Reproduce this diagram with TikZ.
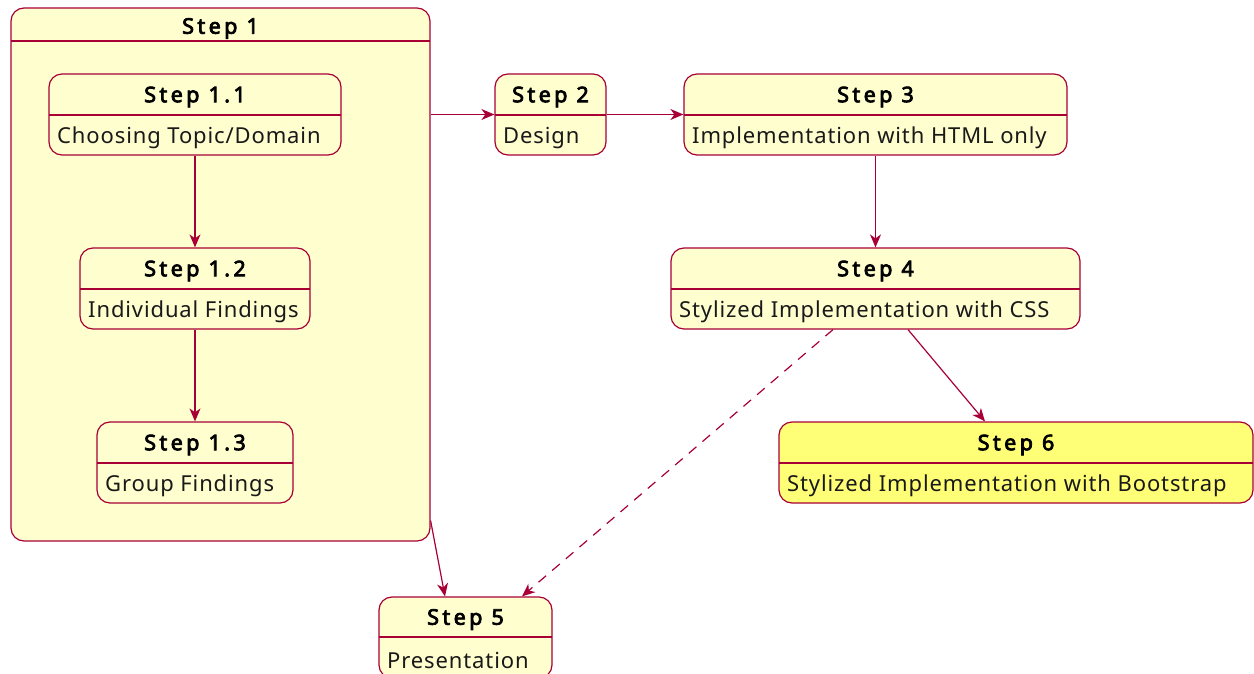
\documentclass[tikz,border=0pt]{standalone}
\usepackage{fontspec}
\setmainfont{Noto Sans}[LetterSpace=4]
\newfontfamily\hdfam{Noto Sans}[FakeBold=3.5, LetterSpace=16]
\usetikzlibrary{arrows.meta}
\definecolor{bord}{HTML}{A80036}
\definecolor{fillc}{HTML}{FEFECE}
\definecolor{fillsix}{HTML}{FFFF77}
\tikzset{
  statebox/.style={draw=bord, line width=1.2pt, rounded corners=13pt, inner sep=0pt},
  divline/.style={draw=bord, line width=1.2pt},
  headtxt/.style={font=\fontsize{21.5}{24}\selectfont\hdfam, inner sep=0pt, text=black},
  bodytxt/.style={font=\fontsize{22}{26}\selectfont, inner sep=0pt, anchor=west, text=black!90},
  arr/.style={draw=bord, line width=1.2pt, -{Stealth[length=13pt,width=11pt,inset=4pt]}},
}
\def\hdshift{2.5}
% #1 name, #2 x1, #3 y1, #4 x2, #5 y2, #6 divider y, #7 title, #8 body, #9 fill
\newcommand\stbox[9]{%
  \node[statebox, fill=#9, minimum width={(#4-#2)*1pt}, minimum height={(#5-#3)*1pt}] (#1) at ({(#2+#4)/2},{-(#3+#5)/2}) {};
  \draw[divline] (#2,-#6) -- (#4,-#6);
  \node[headtxt] (#1-t) at ({(#2+#4)/2},{-(#3+#6)/2-\hdshift}) {#7};
  \node[bodytxt] (#1-b) at ({#2+8},{-(#6+23)}) {#8};
}
\begin{document}
\begin{tikzpicture}[x=1pt,y=1pt]
\useasboundingbox (0,0) rectangle (1254,-674);
\def\hdshift{4}
\stbox{s1}{11}{8}{430}{541}{41}{Step 1}{}{fillc}
\def\hdshift{2.5}
\stbox{s11}{49}{74}{341}{155}{115}{Step 1.1}{Choosing Topic/Domain}{fillc}
\stbox{s12}{80}{248}{310}{329}{289}{Step 1.2}{Individual Findings}{fillc}
\stbox{s13}{97}{422}{293}{503}{463}{Step 1.3}{Group Findings}{fillc}
\stbox{s2}{495}{74}{606}{155}{115}{Step 2}{Design}{fillc}
\stbox{s3}{684}{74}{1067}{155}{115}{Step 3}{Implementation with HTML only}{fillc}
\stbox{s4}{671}{248}{1080}{329}{289}{Step 4}{Stylized Implementation with CSS}{fillc}
\stbox{s6}{779}{422}{1253}{503}{463}{Step 6}{Stylized Implementation with Bootstrap}{fillsix}
\stbox{s5}{379}{597}{552}{678}{637}{Step 5}{Presentation}{fillc}

\draw[arr] (s11) -- (s12);
\draw[arr] (s12) -- (s13);
\draw[arr] (s1.east |- s2.west) -- (s2.west);
\draw[arr] (s2) -- (s3);
\draw[arr] (s3) -- (s4);
\draw[arr] ([xshift=32.5pt]s4.south) -- ([xshift=-31pt]s6.north);
\draw[arr, dashed, dash pattern=on 10pt off 8pt] ([xshift=-42.5pt]s4.south) -- ([xshift=56.5pt]s5.north);
\draw[arr] ([yshift=21pt]s1.south east) -- ([xshift=-20.5pt]s5.north);
\end{tikzpicture}
\end{document}
